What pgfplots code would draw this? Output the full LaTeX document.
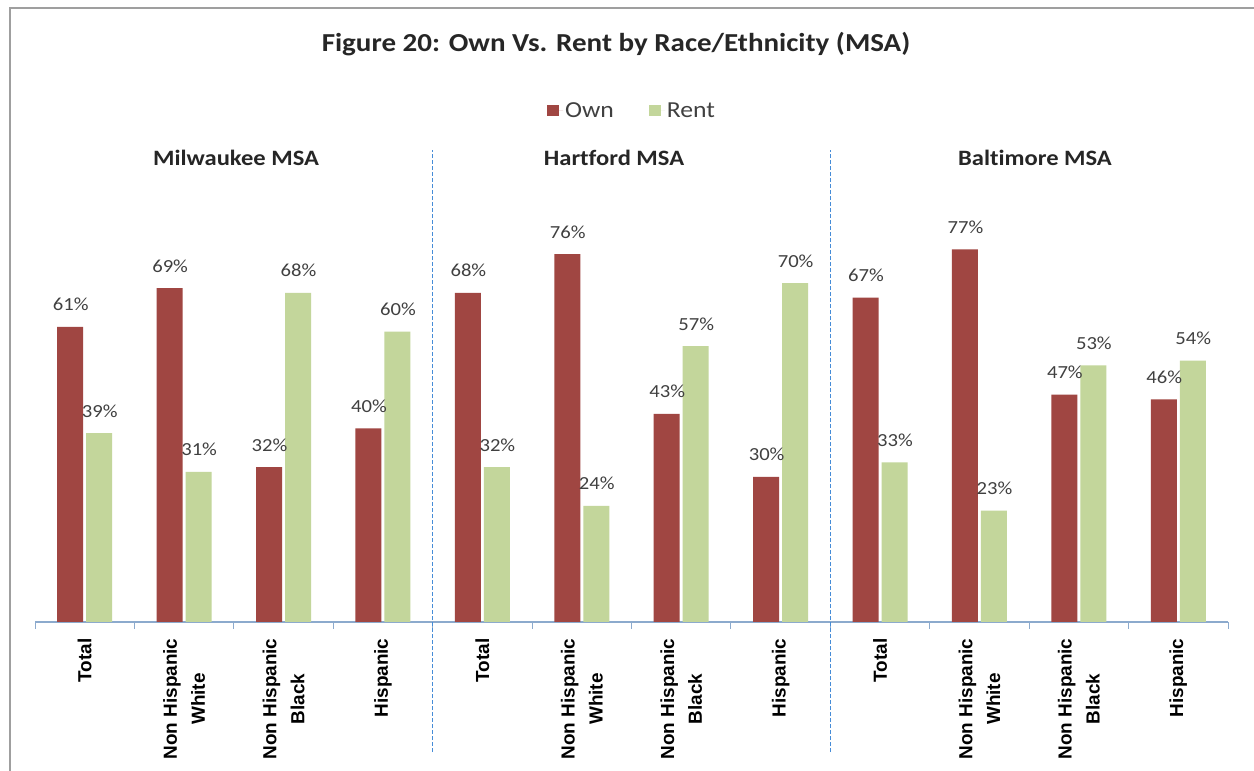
\documentclass[border=0pt]{standalone}
\usepackage{pgfplots}
\pgfplotsset{compat=1.18}
\usepackage{fontspec}
\setmainfont{Carlito}[FakeStretch=1.12, Ligatures={NoCommon}]
\newfontfamily\tickfont{Liberation Sans}
\definecolor{own}{RGB}{160,70,66}
\definecolor{rent}{RGB}{195,214,155}
\definecolor{axblue}{RGB}{140,170,205}
\definecolor{sepblue}{RGB}{70,140,215}
\definecolor{lbl}{RGB}{64,64,64}
\definecolor{ttl}{RGB}{38,38,38}
\begin{document}
\begin{tikzpicture}
\useasboundingbox (0,0) rectangle (1254bp,771bp);
\fill[white] (0,0) rectangle (1254bp,771bp);
\draw[gray!75, line width=2bp] (10bp,0) -- (10bp,763bp) -- (1254bp,763bp);
\begin{axis}[
  at={(35bp,149bp)}, anchor=south west,
  scale only axis, width=1193bp, height=484bp,
  xmin=-0.5, xmax=11.5, ymin=0, ymax=100,
  clip=false,
  axis y line=none, axis x line=bottom,
  x axis line style={-, draw=axblue, line width=1.2bp},
  xtick={0,...,11}, major tick length=0pt,
  minor xtick={-0.5,0.5,...,11.5}, minor tick length=7bp,
  tick align=outside, minor tick style={draw=axblue, line width=1bp},
  xticklabels={Total, Non Hispanic\\White, Non Hispanic\\Black, Hispanic,
               Total, Non Hispanic\\White, Non Hispanic\\Black, Hispanic,
               Total, Non Hispanic\\White, Non Hispanic\\Black, Hispanic},
  xticklabel style={rotate=90, anchor=east, align=center, text=black,
     font=\tickfont\bfseries\fontsize{19}{28}\selectfont, xshift=-13bp},
  ytick=\empty,
  /pgf/number format/assume math mode=true,
  legend style={at={(0.5004,1.0558)}, anchor=center, draw=none, fill=none,
     legend columns=2, font=\fontsize{23}{27}\selectfont, text=lbl,
     /tikz/every even column/.append style={column sep=33bp}},
  legend image code/.code={\path (0bp,0bp) -- (16bp,0bp); \fill[#1] (0bp,-5.5bp) rectangle (12bp,5.5bp);},
  every node near coord/.append style={font=\fontsize{18.5}{20}\selectfont, text=lbl, anchor=base, yshift=16bp},
]
\addplot[ybar, bar width=26bp, bar shift=-14.5bp, fill=own, draw=none,
  every node near coord/.append style={xshift=-14bp},
  nodes near coords={\pgfmathprintnumber{\pgfplotspointmeta}\%}]
  coordinates {(0,61) (1,69) (2,32) (3,40) (4,68) (5,76) (6,43) (7,30) (8,67) (9,77) (10,47) (11,46)};
\addplot[ybar, bar width=26bp, bar shift=14.5bp, fill=rent, draw=none,
  every node near coord/.append style={xshift=15bp},
  nodes near coords={\pgfmathprintnumber{\pgfplotspointmeta}\%}]
  coordinates {(0,39) (1,31) (2,68) (3,60) (4,32) (5,24) (6,57) (7,70) (8,33) (9,23) (10,53) (11,54)};
\legend{Own, Rent}
\addplot[forget plot, sepblue, line width=1.3bp, dash pattern=on 4bp off 2bp, mark=none]
  coordinates {(3.5,-26.9) (3.5,97.5)};
\addplot[forget plot, sepblue, line width=1.3bp, dash pattern=on 4bp off 2bp, mark=none]
  coordinates {(7.5,-26.9) (7.5,97.5)};
\end{axis}
\node[text=ttl, font=\bfseries\fontsize{26}{30}\selectfont] at (616bp,727bp) {Figure 20: Own Vs. Rent by Race/Ethnicity (MSA)};
\node[text=ttl, font=\bfseries\fontsize{22}{26}\selectfont] at (236bp,613bp) {Milwaukee MSA};
\node[text=ttl, font=\bfseries\fontsize{22}{26}\selectfont] at (614bp,613bp) {Hartford MSA};
\node[text=ttl, font=\bfseries\fontsize{22}{26}\selectfont] at (1035bp,613bp) {Baltimore MSA};
\end{tikzpicture}
\end{document}
